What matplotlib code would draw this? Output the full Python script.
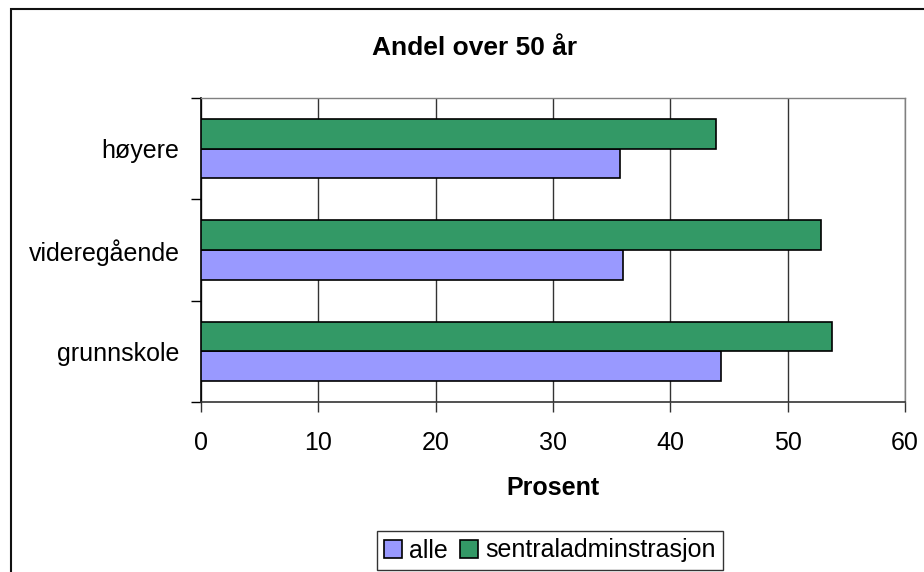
import matplotlib
matplotlib.use("Agg")
import matplotlib.pyplot as plt
from matplotlib.patches import Rectangle
import numpy as np

plt.rcParams['font.family'] = ['Liberation Sans', 'DejaVu Sans']

categories = ['grunnskole', 'videregående', 'høyere']
alle = [44.3, 36.0, 35.7]
sentral = [53.8, 52.8, 43.9]
series_names = ['alle', 'sentraladminstrasjon']
xticks = [0, 10, 20, 30, 40, 50, 60]

W, H = 924, 572
fig = plt.figure(figsize=(W / 100, H / 100), dpi=100)

# chart border
fig.patches.append(Rectangle((11 / W, -0.05), 1.2, 1 - 9 / H + 0.05,
                             transform=fig.transFigure, fill=False,
                             edgecolor='#111111', linewidth=1.5))

ax = fig.add_axes([201 / W, 1 - 402 / H, (905 - 201) / W, (402 - 98) / H])

y = np.arange(len(categories))
h = 0.293
b1 = ax.barh(y - h / 2, alle, height=h, color='#9999FF', edgecolor='black',
             linewidth=1.2, label=series_names[0], zorder=3)
b2 = ax.barh(y + h / 2, sentral, height=h, color='#339966', edgecolor='black',
             linewidth=1.2, label=series_names[1], zorder=3)

ax.set_xlim(0, 60)
ax.set_ylim(-0.5, len(categories) - 0.5)
ax.set_xticks(xticks)
ax.set_xticklabels([str(t) for t in xticks], fontsize=18)
ax.set_yticks(y)
ax.set_yticklabels(categories, fontsize=18)
ax.set_yticks(np.arange(-0.5, len(categories), 1.0), minor=True)
ax.tick_params(axis='y', which='major', length=0, pad=15.5)
ax.tick_params(axis='y', which='minor', length=7.2, width=1, color='black', direction='out')
ax.tick_params(axis='x', which='major', length=7.2, width=1, color='#333333',
               direction='out', pad=14)

ax.grid(axis='x', color='#333333', linewidth=1, zorder=0)
ax.set_axisbelow(True)

for side in ['top', 'right']:
    ax.spines[side].set_color('#808080')
    ax.spines[side].set_linewidth(1)
ax.spines['left'].set_color('black')
ax.spines['left'].set_linewidth(1.2)
ax.spines['bottom'].set_color('#333333')
ax.spines['bottom'].set_linewidth(1.2)

ax.set_xlabel('Prosent', fontsize=18, fontweight='bold', labelpad=15)

fig.text(475 / W, 1 - 48 / H, 'Andel over 50 år', ha='center', va='center',
         fontsize=19, fontweight='bold')

leg = fig.legend(handles=[b1, b2], labels=series_names, loc='upper center',
                 bbox_to_anchor=(550 / W, 1 - 531 / H), ncol=2, fontsize=18,
                 frameon=True, fancybox=False, edgecolor='black',
                 handlelength=0.7, handleheight=0.7, handletextpad=0.3,
                 columnspacing=0.5, borderpad=0.3, borderaxespad=0)
leg.get_frame().set_linewidth(1)

fig.savefig('out.png', dpi=100)
